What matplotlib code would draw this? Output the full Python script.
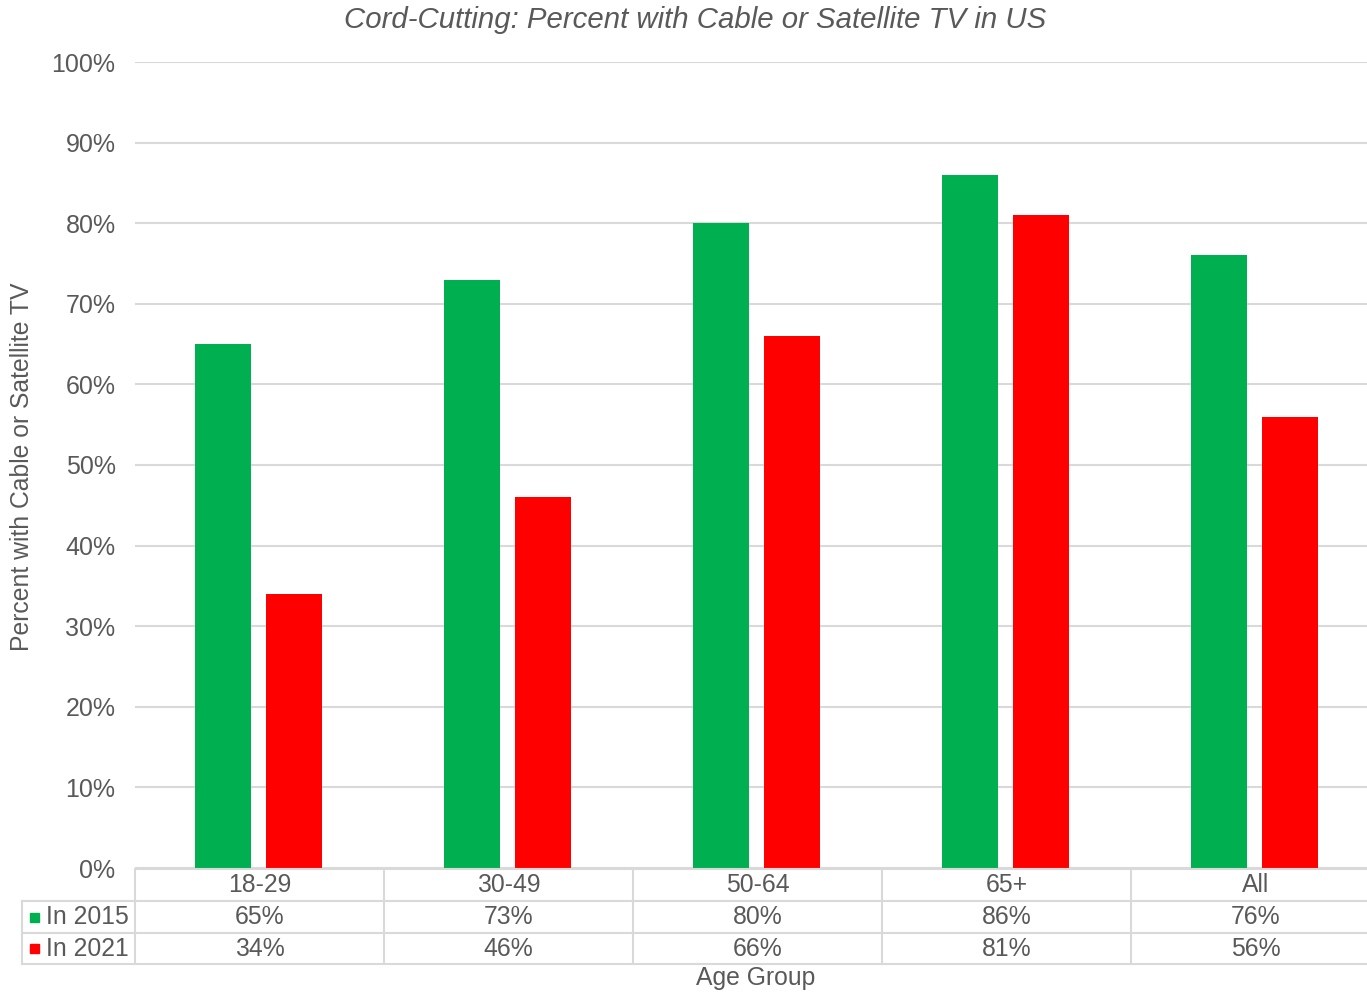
import matplotlib
matplotlib.use("Agg")
import matplotlib.pyplot as plt
import numpy as np
from matplotlib.transforms import blended_transform_factory
from matplotlib.patches import Rectangle

categories = ["18-29", "30-49", "50-64", "65+", "All"]
series_names = ["In 2015", "In 2021"]
values_2015 = [65, 73, 80, 86, 76]
values_2021 = [34, 46, 66, 81, 56]
yticks = [0, 10, 20, 30, 40, 50, 60, 70, 80, 90, 100]
ytick_labels = [f"{v}%" for v in yticks]

colors = ["#00B050", "#FF0000"]
txt = "#595959"
gridc = "#d9d9d9"
plt.rcParams['font.family'] = ['Liberation Sans', 'DejaVu Sans']

W, H = 1367, 992
fig = plt.figure(figsize=(W / 100, H / 100), dpi=100)

def fx(px):
    return px / W

def fy(py):
    return 1 - py / H

ax_left, ax_right, ax_top, ax_bot = 135, 1380, 62, 868
ax = fig.add_axes([fx(ax_left), fy(ax_bot), (ax_right - ax_left) / W, (ax_bot - ax_top) / H])

x = np.arange(len(categories))
bw = 0.225
off = 0.1426
ax.bar(x - off - 0.003, values_2015, width=bw, color=colors[0], zorder=3)
ax.bar(x + off - 0.003, values_2021, width=bw, color=colors[1], zorder=3)

ax.set_xlim(-0.5, len(categories) - 0.5)
ax.set_ylim(0, 100)
ax.set_yticks(yticks)
ax.set_yticklabels(ytick_labels, fontsize=18, color=txt)
ax.tick_params(axis='y', length=0, pad=14)
ax.set_xticks([])
ax.yaxis.grid(True, color=gridc, linewidth=1.5, zorder=0)
for s in ax.spines.values():
    s.set_visible(False)

# Title and y label
fig.text(fx(695), fy(20), "Cord-Cutting: Percent with Cable or Satellite TV in US",
         fontsize=21.2, style='italic', color=txt, ha='center', va='center')
fig.text(fx(22), fy(467), "Percent with Cable or Satellite TV", rotation=90,
         fontsize=17.8, color=txt, ha='center', va='center')

# Data table
tr = blended_transform_factory(ax.transData, fig.transFigure)
row_lines = [869, 901, 933, 964]
lw = 1.5
fig.add_artist(plt.Line2D([fx(ax_left), fx(ax_right)], [fy(row_lines[0])] * 2, color=gridc, lw=lw))
for yl in row_lines[1:]:
    fig.add_artist(plt.Line2D([fx(22), fx(ax_right)], [fy(yl)] * 2, color=gridc, lw=lw))
for b in np.arange(-0.5, len(categories), 1.0):
    ax.add_line(plt.Line2D([b, b], [fy(row_lines[0]), fy(row_lines[-1])], color=gridc, lw=lw,
                           transform=tr, clip_on=False))
fig.add_artist(plt.Line2D([fx(22), fx(22)], [fy(row_lines[1]), fy(row_lines[-1])], color=gridc, lw=lw))

row_centers = [(row_lines[i] + row_lines[i + 1]) / 2 for i in range(3)]
fs = 17.8
for i, c in enumerate(categories):
    ax.text(i, fy(row_centers[0]), c, transform=tr, ha='center', va='center', fontsize=fs, color=txt)
    ax.text(i, fy(row_centers[1]), f"{values_2015[i]}%", transform=tr, ha='center', va='center', fontsize=fs, color=txt)
    ax.text(i, fy(row_centers[2]), f"{values_2021[i]}%", transform=tr, ha='center', va='center', fontsize=fs, color=txt)

for j, name in enumerate(series_names):
    yc = row_centers[j + 1]
    fig.add_artist(Rectangle((fx(30), fy(yc + 4.5)), 9 / W, 9 / H, color=colors[j], transform=fig.transFigure))
    fig.text(fx(46), fy(yc), name, fontsize=fs, color=txt, ha='left', va='center')

fig.text(fx(756), fy(978), "Age Group", fontsize=fs, color=txt, ha='center', va='center')

fig.savefig("out.png", dpi=100)
